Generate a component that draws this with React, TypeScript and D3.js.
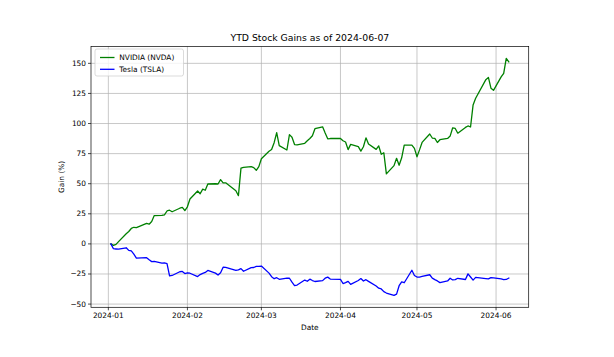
import React from "react";
import * as d3 from "d3";

const dates: string[] = [
  "2024-01-02","2024-01-03","2024-01-04","2024-01-05","2024-01-08","2024-01-09","2024-01-10","2024-01-11","2024-01-12",
  "2024-01-16","2024-01-17","2024-01-18","2024-01-19","2024-01-22","2024-01-23","2024-01-24","2024-01-25","2024-01-26",
  "2024-01-29","2024-01-30","2024-01-31","2024-02-01","2024-02-02","2024-02-05","2024-02-06","2024-02-07","2024-02-08",
  "2024-02-09","2024-02-12","2024-02-13","2024-02-14","2024-02-15","2024-02-16","2024-02-20","2024-02-21","2024-02-22",
  "2024-02-23","2024-02-26","2024-02-27","2024-02-28","2024-02-29","2024-03-01","2024-03-04","2024-03-05","2024-03-06",
  "2024-03-07","2024-03-08","2024-03-11","2024-03-12","2024-03-13","2024-03-14","2024-03-15","2024-03-18","2024-03-19",
  "2024-03-20","2024-03-21","2024-03-22","2024-03-25","2024-03-26","2024-03-27","2024-03-28","2024-04-01","2024-04-02",
  "2024-04-03","2024-04-04","2024-04-05","2024-04-08","2024-04-09","2024-04-10","2024-04-11","2024-04-12","2024-04-15",
  "2024-04-16","2024-04-17","2024-04-18","2024-04-19","2024-04-22","2024-04-23","2024-04-24","2024-04-25","2024-04-26",
  "2024-04-29","2024-04-30","2024-05-01","2024-05-02","2024-05-03","2024-05-06","2024-05-07","2024-05-08","2024-05-09",
  "2024-05-10","2024-05-13","2024-05-14","2024-05-15","2024-05-16","2024-05-17","2024-05-20","2024-05-21","2024-05-22",
  "2024-05-23","2024-05-24","2024-05-28","2024-05-29","2024-05-30","2024-05-31","2024-06-03","2024-06-04","2024-06-05",
  "2024-06-06",
];

const nvdaGain: number[] = [
  0, -1.24, -0.35, 1.93, 8.48, 10.32, 12.83, 13.81, 13.56,
  17.05, 16.37, 18.56, 23.51, 23.76, 24.19, 27.34, 27.96, 26.72,
  29.64, 30.32, 27.73, 30.85, 37.35, 43.93, 41.66, 45.52, 44.58,
  49.75, 49.96, 49.75, 53.43, 50.74, 50.75, 44.16, 40.06, 62.97,
  63.61, 64.18, 63.39, 61.15, 64.19, 70.77, 76.9, 78.37, 84.11,
  92.36, 81.68, 78.02, 90.81, 88.65, 82.52, 82.32, 83.55, 85.67,
  87.55, 89.81, 95.71, 97.23, 92.06, 87.32, 87.54, 87.55, 85.66,
  84.65, 78.31, 82.66, 80.78, 77.11, 80.69, 88.11, 83.05, 78.52,
  81.43, 74.44, 75.72, 58.19, 65.04, 71.11, 65.36, 71.53, 82.09,
  82.11, 79.32, 72.37, 78.1, 84.3, 91.28, 87.96, 87.67, 84.22,
  86.56, 87.62, 89.55, 96.44, 95.87, 91.97, 96.76, 97.98, 97.1,
  115.45, 121.0, 136.43, 138.35, 129.36, 127.57, 138.71, 141.69, 154.14,
  151.16,
];

const tslaGain: number[] = [
  0, -4.01, -4.22, -4.4, -3.21, -5.42, -5.83, -8.53, -11.89,
  -11.48, -13.23, -14.71, -14.58, -15.95, -15.81, -16.34, -26.48, -26.23,
  -23.14, -22.88, -24.61, -23.98, -24.36, -27.12, -25.49, -24.49, -23.69,
  -22.08, -24.27, -25.92, -24.04, -19.31, -19.51, -22.0, -21.6, -20.53,
  -22.72, -19.73, -19.6, -18.67, -18.73, -18.43, -24.27, -27.24, -28.93,
  -28.09, -29.42, -28.44, -28.53, -31.78, -34.59, -34.16, -30.04, -31.04,
  -29.29, -30.43, -31.23, -30.51, -28.48, -27.61, -29.24, -29.47, -32.92,
  -32.22, -31.12, -33.62, -30.37, -28.8, -30.86, -29.72, -31.14, -35.0,
  -36.76, -37.42, -39.65, -40.81, -42.82, -41.76, -34.74, -31.49, -32.26,
  -21.89, -26.22, -27.55, -27.54, -27.06, -25.63, -28.42, -29.67, -30.77,
  -32.18, -30.81, -28.53, -29.96, -29.62, -28.56, -29.58, -24.89, -27.5,
  -30.06, -27.85, -28.85, -29.08, -28.03, -28.31, -29.04, -29.65, -29.55,
  -28.37,
];

const seriesNames: string[] = ["NVIDIA (NVDA)", "Tesla (TSLA)"];
const seriesColors: string[] = ["#008000", "#0000ff"];
const yTicks: number[] = [-50, -25, 0, 25, 50, 75, 100, 125, 150];
const xTickLabels: string[] = ["2024-01", "2024-02", "2024-03", "2024-04", "2024-05", "2024-06"];

const W = 614;
const H = 357;
const L = 91;
const R = 528.7;
const T = 46.5;
const B = 307.3;
const FONT = "DejaVu Sans, sans-serif";

export default function App() {
  const parse = d3.utcParse("%Y-%m-%d");
  const xs = dates.map((d) => parse(d) as Date);
  const x0 = +xs[0];
  const x1 = +xs[xs.length - 1];
  const xm = (x1 - x0) * 0.05;
  const x = d3.scaleUtc().domain([new Date(x0 - xm), new Date(x1 + xm)]).range([L, R]);

  const all = nvdaGain.concat(tslaGain);
  const ymin = d3.min(all) as number;
  const ymax = d3.max(all) as number;
  const ym = (ymax - ymin) * 0.05;
  const y = d3.scaleLinear().domain([ymin - ym, ymax + ym]).range([B, T]);

  const line = d3
    .line<number>()
    .x((_, i) => x(xs[i]))
    .y((v) => y(v));

  const xTicks = xTickLabels.map((s) => parse(s + "-01") as Date);
  const series = [nvdaGain, tslaGain];
  const fmtY = (v: number) => (v < 0 ? "\u2212" + Math.abs(v) : String(v));

  return (
    <svg width={W} height={H} style={{ display: "block", position: "absolute", left: 0, top: 0 }} fontFamily={FONT}>
      <rect x={0} y={0} width={W} height={H} fill="#fff" />
      {xTicks.map((d, i) => (
        <line key={"gx" + i} x1={x(d)} x2={x(d)} y1={T} y2={B} stroke="#b0b0b0" strokeWidth={0.7} />
      ))}
      {yTicks.map((v, i) => (
        <line key={"gy" + i} x1={L} x2={R} y1={y(v)} y2={y(v)} stroke="#b0b0b0" strokeWidth={0.7} />
      ))}
      {series.map((s, i) => (
        <path key={"s" + i} d={line(s) || ""} fill="none" stroke={seriesColors[i]} strokeWidth={1.3} strokeLinejoin="round" strokeLinecap="square" />
      ))}
      <rect x={L} y={T} width={R - L} height={B - T} fill="none" stroke="#000" strokeWidth={0.7} />
      {xTicks.map((d, i) => (
        <g key={"xt" + i}>
          <line x1={x(d)} x2={x(d)} y1={B} y2={B + 3} stroke="#000" strokeWidth={0.7} />
          <text x={x(d)} y={B + 5} fontSize={7.4} textAnchor="middle" dominantBaseline="hanging" fill="#000">
            {xTickLabels[i]}
          </text>
        </g>
      ))}
      {yTicks.map((v, i) => (
        <g key={"yt" + i}>
          <line x1={L - 3} x2={L} y1={y(v)} y2={y(v)} stroke="#000" strokeWidth={0.7} />
          <text x={L - 5} y={y(v)} fontSize={7.4} textAnchor="end" dominantBaseline="central" fill="#000">
            {fmtY(v)}
          </text>
        </g>
      ))}
      <text x={(L + R) / 2} y={327.5} fontSize={7.4} textAnchor="middle" dominantBaseline="central" fill="#000">
        Date
      </text>
      <text
        x={0}
        y={0}
        transform={`translate(61.5,${(T + B) / 2}) rotate(-90)`}
        fontSize={7.4}
        textAnchor="middle"
        dominantBaseline="central"
        fill="#000"
      >
        Gain (%)
      </text>
      <text x={(L + R) / 2} y={T - 6} fontSize={9.3} textAnchor="middle" fill="#000">
        YTD Stock Gains as of 2024-06-07
      </text>
      <g>
        <rect x={95} y={49} width={88.5} height={27} rx={2} fill="#fff" fillOpacity={0.8} stroke="#cccccc" strokeWidth={0.7} />
        {seriesNames.map((n, i) => (
          <g key={"lg" + i}>
            <line x1={100} x2={114.5} y1={57.5 + i * 11.8} y2={57.5 + i * 11.8} stroke={seriesColors[i]} strokeWidth={1.3} />
            <text x={119.3} y={57.5 + i * 11.8} fontSize={7.4} dominantBaseline="central" fill="#000">
              {n}
            </text>
          </g>
        ))}
      </g>
    </svg>
  );
}
